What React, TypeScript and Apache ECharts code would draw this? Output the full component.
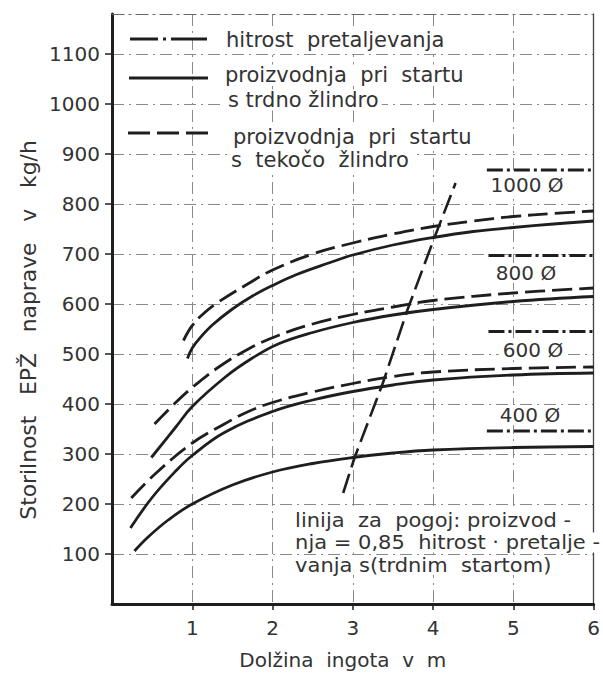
import React, { useEffect, useRef } from "react";
import * as echarts from "echarts";

// ---------- data ----------
// x: Dolžina ingota [m], y: Storilnost EPŽ naprave [kg/h]
const xTickValues = [1, 2, 3, 4, 5, 6];
const yTickValues = [100, 200, 300, 400, 500, 600, 700, 800, 900, 1000, 1100];

// proizvodnja pri startu s trdno žlindro (solid)
const solid400: number[][] = [
  [0.28, 106], [0.45, 134], [0.7, 168], [1.0, 200], [1.5, 238], [2.0, 264],
  [2.5, 281], [3.0, 293], [3.5, 302], [4.0, 308], [5.0, 313], [6.0, 315],
];
const solid600: number[][] = [
  [0.23, 152], [0.5, 213], [0.8, 267], [1.0, 297], [1.4, 343], [2.0, 385],
  [2.5, 408], [3.0, 425], [3.5, 438], [4.0, 448], [5.0, 458], [6.0, 462],
];
const solid800: number[][] = [
  [0.49, 293], [0.8, 355], [1.0, 395], [1.42, 455], [1.74, 491], [2.07, 520],
  [2.5, 543], [3.0, 563], [3.5, 578], [4.0, 589], [5.0, 605], [6.0, 615],
];
const solid1000: number[][] = [
  [0.94, 491], [1.0, 512], [1.1, 533], [1.25, 558], [1.5, 590], [1.75, 616],
  [2.0, 637], [2.3, 659], [2.7, 682], [3.0, 698], [3.5, 718], [4.0, 733],
  [4.5, 745], [5.0, 753], [5.5, 760], [6.0, 766],
];

// proizvodnja pri startu s tekočo žlindro (dashed)
const dashed600: number[][] = [
  [0.24, 212], [0.55, 262], [1.0, 322], [1.4, 360], [1.7, 385], [2.0, 403],
  [2.5, 424], [3.0, 441], [3.5, 455], [4.0, 464], [5.0, 471], [6.0, 474],
];
const dashed800: number[][] = [
  [0.53, 360], [0.8, 404], [1.0, 433], [1.33, 474], [1.7, 510], [2.07, 537],
  [2.5, 560], [3.0, 579], [3.5, 594], [4.0, 607], [5.0, 622], [6.0, 632],
];
const dashed1000: number[][] = [
  [0.89, 527], [0.95, 545], [1.0, 557], [1.1, 575], [1.3, 601], [1.7, 641],
  [2.0, 668], [2.5, 700], [3.0, 722], [3.5, 740], [4.0, 755], [4.5, 766],
  [5.0, 775], [5.5, 781], [6.0, 786],
];

// linija za pogoj: proizvodnja = 0,85 hitrost pretaljevanja
const conditionLine: number[][] = [
  [2.88, 222], [3.02, 292], [3.37, 440], [3.68, 588], [4.01, 730], [4.28, 842],
];

// hitrost pretaljevanja (dash-dot) per diameter
const meltDiameters = ["1000 Ø", "800 Ø", "600 Ø", "400 Ø"];
const meltRates = [868, 697, 545, 346];
const meltFromX = [4.67, 4.69, 4.69, 4.67];
const meltToX = [6, 6, 6, 6];

// texts
const legendTexts = [
  ["hitrost  pretaljevanja"],
  ["proizvodnja  pri  startu", "s trdno žlindro"],
  ["proizvodnja  pri  startu", "s  tekočo  žlindro"],
];
const noteLines = [
  "linija  za  pogoj: proizvod -",
  "nja = 0,85  hitrost · pretalje -",
  "vanja s(trdnim  startom)",
];
const yTitle = "Storilnost   EPŽ   naprave   v   kg/h";
const xTitle = "Dolžina  ingota  v  m";

const FONT = "'DejaVu Sans', 'Noto Sans', sans-serif";
const INK = "#1e1e1e";
const TXT = "#333";
const GRIDC = "#8a8a8a";
const DASH = [20, 7];
const DASHDOT = [16, 4, 3, 4];

export default function App() {
  const ref = useRef<HTMLDivElement>(null);

  useEffect(() => {
    if (!ref.current) return;
    const chart = echarts.init(ref.current, undefined, { renderer: "svg" });

    const curve = (name: string, data: number[][], dashed: boolean) => ({
      type: "line",
      name,
      data,
      smooth: 0.4,
      showSymbol: false,
      symbol: "none",
      silent: true,
      z: 3,
      lineStyle: { color: INK, width: 2.8, type: dashed ? DASH : "solid" },
    });

    const meltSeries = meltRates.map((v, i) => ({
      type: "line",
      name: "hitrost " + meltDiameters[i],
      data: [
        [meltFromX[i], v],
        [meltToX[i], v],
      ],
      showSymbol: false,
      symbol: "none",
      silent: true,
      z: 3,
      lineStyle: { color: INK, width: 3.2, type: DASHDOT },
    }));

    const textStyleBase = { fill: TXT, fontFamily: FONT };

    const graphic: any[] = [];
    // legend samples
    graphic.push({
      type: "line",
      shape: { x1: 130, y1: 39, x2: 207, y2: 39 },
      style: { stroke: INK, lineWidth: 3.2, lineDash: [28, 5, 3, 5, 60, 10] },
      z: 50,
    });
    graphic.push({
      type: "line",
      shape: { x1: 129, y1: 78, x2: 208, y2: 78 },
      style: { stroke: INK, lineWidth: 2.8 },
      z: 50,
    });
    graphic.push({
      type: "line",
      shape: { x1: 128, y1: 133, x2: 210, y2: 133 },
      style: { stroke: INK, lineWidth: 2.8, lineDash: [22, 7] },
      z: 50,
    });
    const legendPos = [
      [[223, 40]],
      [[222, 75], [225, 100]],
      [[230, 137], [228, 160]],
    ];
    legendTexts.forEach((lines, i) =>
      lines.forEach((t, j) =>
        graphic.push({
          type: "text",
          x: legendPos[i][j][0],
          y: legendPos[i][j][1],
          z: 50,
          style: {
            ...textStyleBase,
            text: t,
            fontSize: 21,
            verticalAlign: "middle",
            align: "left",
            backgroundColor: "#fff",
            padding: [0, 3],
          },
        })
      )
    );
    // diameter labels
    const diaPos = [
      [527, 185],
      [526, 273],
      [533, 350],
      [530, 415],
    ];
    meltDiameters.forEach((t, i) =>
      graphic.push({
        type: "text",
        x: diaPos[i][0],
        y: diaPos[i][1],
        z: 50,
        style: {
          ...textStyleBase,
          text: t,
          fontSize: 20,
          align: "center",
          verticalAlign: "middle",
          backgroundColor: "#fff",
          padding: [0, 4],
        },
      })
    );
    // note
    noteLines.forEach((t, i) =>
      graphic.push({
        type: "text",
        x: 293,
        y: 520 + i * 22.5,
        scaleX: 1.05,
        z: 50,
        style: {
          ...textStyleBase,
          text: t,
          fontSize: 20,
          align: "left",
          verticalAlign: "middle",
          backgroundColor: "#fff",
          padding: [0, 2],
        },
      })
    );
    // y title
    graphic.push({
      type: "text",
      x: 29,
      y: 330,
      rotation: Math.PI / 2,
      scaleX: 1.04,
      z: 50,
      style: {
        ...textStyleBase,
        text: yTitle,
        fontSize: 21,
        align: "center",
        verticalAlign: "middle",
      },
    });

    const option: any = {
      animation: false,
      backgroundColor: "#fff",
      grid: { left: 112, right: 6, top: 14, bottom: 71 },
      xAxis: [
        {
          type: "value",
          min: 0,
          max: 6,
          interval: 1,
          axisLine: { show: true, onZero: false, lineStyle: { color: INK, width: 3 } },
          axisTick: { show: true, length: 6, lineStyle: { color: INK, width: 1.5 } },
          axisLabel: {
            fontSize: 20,
            color: TXT,
            margin: 14,
            fontFamily: FONT,
            showMinLabel: false,
            formatter: (v: number) => (xTickValues.includes(v) ? String(v) : ""),
          },
          splitLine: { show: true, lineStyle: { color: GRIDC, width: 1, type: [12, 5, 2, 5] } },
          name: xTitle,
          nameLocation: "middle",
          nameGap: 46,
          nameTextStyle: { fontSize: 20, color: TXT, fontFamily: FONT, padding: [0, 20, 0, 0] },
        },
        {
          type: "value",
          position: "top",
          min: 0,
          max: 6,
          axisLine: { show: true, onZero: false, lineStyle: { color: "#666", width: 1.2, type: [12, 5, 2, 5] } },
          axisTick: { show: false },
          axisLabel: { show: false },
          splitLine: { show: false },
        },
      ],
      yAxis: [
        {
          type: "value",
          min: 0,
          max: 1180,
          interval: 100,
          axisLine: { show: true, onZero: false, lineStyle: { color: INK, width: 3 } },
          axisTick: { show: true, length: 7, lineStyle: { color: INK, width: 1.5 } },
          axisLabel: {
            fontSize: 20,
            color: TXT,
            margin: 12,
            fontFamily: FONT,
            showMinLabel: false,
            showMaxLabel: false,
            formatter: (v: number) => (yTickValues.includes(v) ? String(v) : ""),
          },
          splitLine: { show: true, lineStyle: { color: GRIDC, width: 1, type: [12, 5, 2, 5] } },
        },
        {
          type: "value",
          position: "right",
          min: 0,
          max: 1180,
          axisLine: { show: true, onZero: false, lineStyle: { color: "#444", width: 1.3 } },
          axisTick: { show: false },
          axisLabel: { show: false },
          splitLine: { show: false },
        },
      ],
      series: [
        curve("trdno 400", solid400, false),
        curve("trdno 600", solid600, false),
        curve("trdno 800", solid800, false),
        curve("trdno 1000", solid1000, false),
        curve("tekoče 600", dashed600, true),
        curve("tekoče 800", dashed800, true),
        curve("tekoče 1000", dashed1000, true),
        {
          type: "line",
          name: "pogoj",
          data: conditionLine,
          smooth: false,
          showSymbol: false,
          symbol: "none",
          silent: true,
          z: 3,
          lineStyle: { color: INK, width: 2.6, type: DASH },
        },
        ...meltSeries,
      ],
      graphic,
    };

    chart.setOption(option);
    return () => chart.dispose();
  }, []);

  return (
    <div
      ref={ref}
      style={{ position: "fixed", left: 0, top: 0, width: 603, height: 675, background: "#fff" }}
    />
  );
}
